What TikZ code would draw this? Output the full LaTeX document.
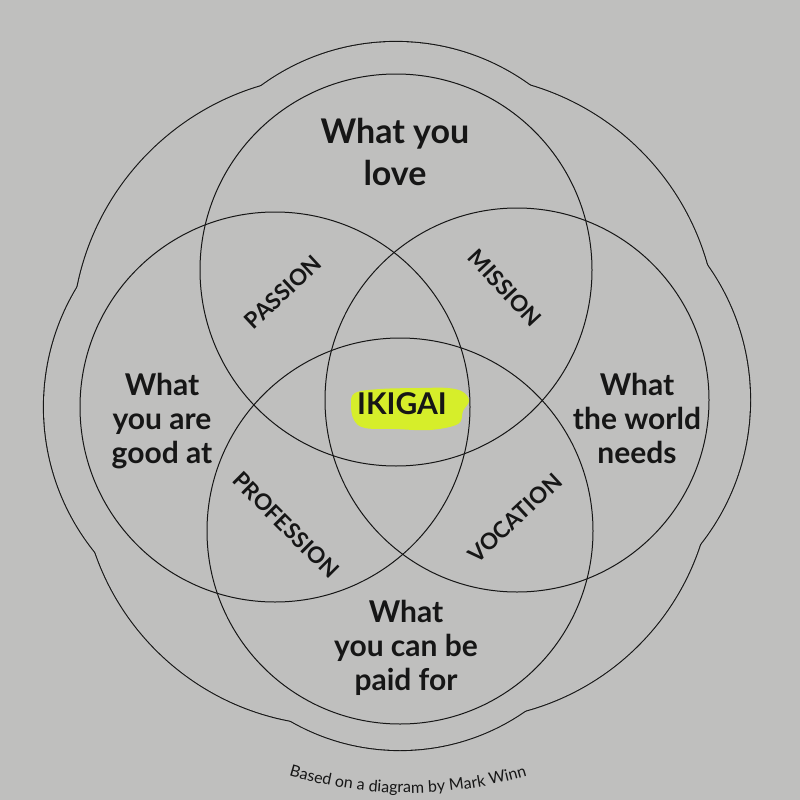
\documentclass[tikz,border=0pt]{standalone}
\usepackage{fontspec}
\setmainfont{Lato}
\usetikzlibrary{decorations.text}
\definecolor{paper}{RGB}{191,191,190}
\definecolor{ink}{RGB}{22,22,22}
\definecolor{hilite}{RGB}{214,238,42}
\begin{document}
\begin{tikzpicture}[x=1pt,y=1pt,
  ring/.style={draw=ink,line width=1.0pt},
  rim/.style={draw=ink,line width=2.2pt},
  bigtext/.style={font=\fontsize{30}{34}\selectfont\bfseries, text=ink, align=center},
  toptext/.style={font=\fontsize{34}{42}\selectfont\bfseries, text=ink, align=center},
  diagtext/.style={font=\fontsize{22.5}{22.5}\selectfont\bfseries, text=ink},
]
\fill[paper] (0,0) rectangle (800,-800);
\useasboundingbox (0,0) rectangle (800,-800);
% outer scalloped outline: union of eight circles
\foreach \cx/\cy/\r in {396/270/228, 275/407/231, 517/400/233, 400/531/219,
                        335.5/338.5/263, 456.5/335/260, 458.5/465.5/254, 337.5/469/256}
  \draw[rim] (\cx,-\cy) circle[radius=\r];
\foreach \cx/\cy/\r in {396/270/228, 275/407/231, 517/400/233, 400/531/219,
                        335.5/338.5/263, 456.5/335/260, 458.5/465.5/254, 337.5/469/256}
  \fill[paper] (\cx,-\cy) circle[radius=\r];
% four circles
\draw[ring] (396,-270) circle[radius=196];
\draw[ring] (275,-407) circle[radius=195];
\draw[ring] (517,-400) circle[radius=192];
\draw[ring] (400,-531) circle[radius=193];
% highlight
\fill[hilite] plot[smooth cycle, tension=0.6] coordinates {
  (355,-393) (380,-389) (420,-388) (448,-388) (463,-392) (469,-401)
  (463,-411) (458,-424) (430,-430) (395,-429) (365,-428) (354,-420) (351,-405)};
% labels
\node[toptext] (love) at (395,-152) {What you\\love};
\node[bigtext] (good) at (162,-421) {What\\you are\\good at};
\node[bigtext] (world) at (637,-418) {What\\the world\\needs};
\node[bigtext] (paid) at (406,-648) {What\\you can be\\paid for};
\node[bigtext] (ikigai) at (402,-404) {IKIGAI};
\node[diagtext, rotate=43] (passion) at (283,-292) {PASSION};
\node[diagtext, rotate=-47] (mission) at (505,-288) {MISSION};
\node[diagtext, rotate=-45] (profession) at (286,-525) {PROFESSION};
\node[diagtext, rotate=43] (vocation) at (515,-518) {VOCATION};
% footer along an arc
\path[decorate, decoration={text along path, text align=center,
   text={|\fontsize{16}{16}\selectfont\color{ink}|Based on a diagram by Mark Winn}}]
   (408,-378) ++(248:415) arc[start angle=248, end angle=292, radius=415];
\end{tikzpicture}
\end{document}
